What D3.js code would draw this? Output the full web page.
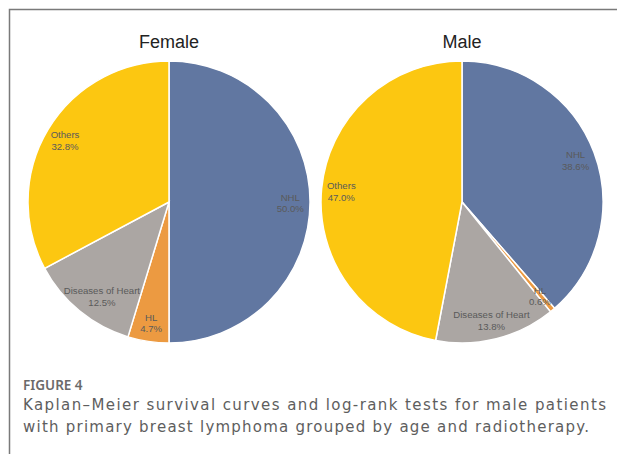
<!DOCTYPE html>
<html>
<head>
<meta charset="utf-8">
<script src="https://cdn.jsdelivr.net/npm/d3@7"></script>
<style>
  html, body { margin: 0; padding: 0; background: #fff; }
</style>
</head>
<body>
<div id="chart"></div>
<script>
// data
const categories = ['NHL', 'HL', 'Diseases of Heart', 'Others'];
const femaleValues = [50.0, 4.7, 12.5, 32.8];
const maleValues = [38.6, 0.6, 13.8, 47.0];
const panelTitles = ['Female', 'Male'];
const captionLabel = 'FIGURE 4';
const captionLines = [
    'Kaplan\u2013Meier survival curves and log-rank tests for male patients',
    'with primary breast lymphoma grouped by age and radiotherapy.'
];

const width = 617;
const height = 454;
const radius = 141;
const centersX = [169, 462];
const centerY = 202;

const colorScale = d3.scaleOrdinal()
    .domain(categories)
    .range(['#6177a1', '#ec9a41', '#aba6a3', '#fcc711']);

const svg = d3.select('#chart')
    .append('svg')
    .attr('width', width)
    .attr('height', height);

// frame (right and bottom edges fall outside the crop)
svg.append('path')
    .attr('d', `M9.5,${height} V9.5 H${width}`)
    .style('fill', 'none')
    .style('stroke', '#7a7a7a')
    .style('stroke-width', 1.5);

const pie = d3.pie().sort(null).value(d => d.value);
const arc = d3.arc().innerRadius(0).outerRadius(radius);
const labelArc = d3.arc().innerRadius(radius * 0.86).outerRadius(radius * 0.86);

[femaleValues, maleValues].forEach((values, k) => {
    const data = categories.map((c, i) => ({ name: c, value: values[i] }));
    const g = svg.append('g')
        .attr('transform', `translate(${centersX[k]},${centerY})`);

    g.append('text')
        .attr('x', 0)
        .attr('y', 48 - centerY)
        .attr('text-anchor', 'middle')
        .style('font-family', 'Liberation Sans, Arial, sans-serif')
        .style('font-size', '18px')
        .style('fill', '#222')
        .text(panelTitles[k]);

    const arcs = pie(data);

    g.selectAll('.slice')
        .data(arcs)
        .enter()
        .append('path')
        .classed('slice', true)
        .attr('d', arc)
        .style('fill', d => colorScale(d.data.name))
        .style('stroke', '#fff')
        .style('stroke-width', 1.5);

    const labels = g.selectAll('.label')
        .data(arcs)
        .enter()
        .append('text')
        .classed('label', true)
        .attr('text-anchor', 'middle')
        .style('font-family', 'Liberation Sans, Arial, sans-serif')
        .style('font-size', '9.6px')
        .style('fill', '#5a5a5a');

    labels.append('tspan')
        .attr('x', 0)
        .attr('dy', '-0.15em')
        .text(d => d.data.name);
    labels.append('tspan')
        .attr('x', 0)
        .attr('dy', '1.2em')
        .text(d => d.data.value.toFixed(1) + '%');

    // keep the label box inside the circle horizontally
    labels.attr('transform', function (d) {
        let [x, y] = labelArc.centroid(d);
        const w = this.getBBox().width;
        const chord = Math.sqrt(Math.max(0, radius * radius - y * y));
        if (Math.abs(x) + w / 2 > chord) {
            x = Math.sign(x) * (chord - w / 2);
        }
        return `translate(${x},${y})`;
    });
});

// caption
svg.append('text')
    .attr('x', 23)
    .attr('y', 390)
    .style('font-family', 'Noto Sans, Open Sans, sans-serif')
    .style('font-size', '13.5px')
    .style('font-weight', 600)
    .style('fill', '#6a6a6a')
    .text(captionLabel);

const captionEnds = [606, 589];
svg.selectAll('.caption')
    .data(captionLines)
    .enter()
    .append('text')
    .classed('caption', true)
    .attr('x', 23)
    .attr('y', (d, i) => 410 + i * 22)
    .attr('textLength', (d, i) => captionEnds[i] - 23)
    .attr('lengthAdjust', 'spacing')
    .style('font-family', 'DejaVu Sans, Noto Sans, sans-serif')
    .style('font-size', '15px')
    .style('fill', '#5e5e5e')
    .text(d => d);
</script>
</body>
</html>
